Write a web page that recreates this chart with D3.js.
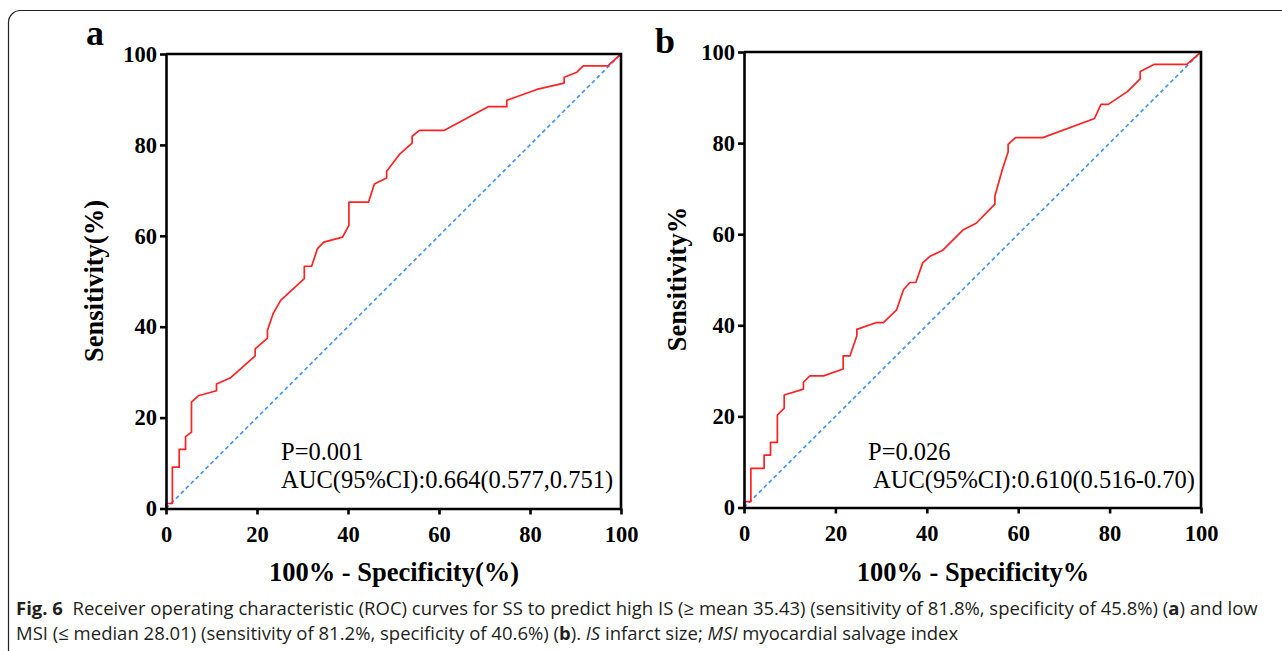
<!DOCTYPE html>
<html>
<head>
<meta charset="utf-8">
<script src="https://cdn.jsdelivr.net/npm/d3@7"></script>
<style>
  body { margin: 0; background: #fff; }
  svg { display: block; }
</style>
</head>
<body>
<div id="chart"></div>
<script>
// ticks shared by both panels
const tickValues = [0, 20, 40, 60, 80, 100];

// panel a: ROC curve (100% - specificity, sensitivity)
const rocA_fpr = [0, 0, 1.4, 1.4, 2.9, 2.9, 4.3, 4.3, 5.6, 5.6, 7.1, 11.1, 11.1, 14.1, 19.6, 19.6, 22.3, 22.3, 23.6, 25.2,
    30.4, 30.4, 32.0, 33.3, 34.7, 38.8, 40.2, 40.2, 44.5, 45.8, 48.5, 48.5, 51.3, 54.1, 54.1, 55.7, 61.2, 70.8, 74.9, 74.9,
    81.5, 87.5, 87.5, 90.3, 91.7, 97.1, 100];
const rocA_tpr = [0, 1.1, 1.1, 9.1, 9.1, 13.0, 13.0, 15.8, 16.8, 23.4, 24.8, 25.9, 27.4, 28.7, 33.6, 35.1, 37.5, 39.2, 43.0, 45.8,
    50.6, 53.3, 53.3, 57.2, 58.6, 59.7, 62.3, 67.4, 67.4, 71.4, 72.7, 74.2, 77.9, 80.4, 81.9, 83.2, 83.2, 88.4, 88.4, 89.8,
    92.2, 93.6, 94.9, 96.0, 97.4, 97.4, 100];

// panel b
const rocB_fpr = [0, 0, 1.5, 1.5, 4.4, 4.4, 5.8, 5.8, 7.3, 7.3, 8.8, 8.8, 13.0, 13.0, 14.4, 17.4, 21.7, 21.7, 23.2, 24.7,
    24.7, 29.0, 30.5, 33.4, 34.9, 36.3, 37.6, 39.1, 40.6, 43.4, 47.9, 50.8, 54.9, 54.9, 56.5, 57.8, 57.8, 59.4, 65.4, 76.7,
    78.1, 79.7, 83.9, 86.7, 86.7, 89.8, 96.9, 100];
const rocB_tpr = [0, 1.3, 1.3, 8.6, 8.6, 11.5, 11.5, 14.3, 14.3, 20.3, 21.8, 24.7, 26.0, 27.5, 28.9, 28.9, 30.4, 33.3, 33.3, 37.7,
    39.1, 40.6, 40.6, 43.4, 47.8, 49.4, 49.4, 53.7, 55.1, 56.4, 60.9, 62.4, 66.6, 68.4, 74.1, 78.1, 79.7, 81.2, 81.2, 85.4,
    88.5, 88.5, 91.3, 94.1, 95.7, 97.3, 97.3, 100];

const refLine = [0, 100];

const panels = [
    {letter: "a", fpr: rocA_fpr, tpr: rocA_tpr, x0: 166, x1: 621, y0: 508.5, y1: 54,
     ylabel: "Sensitivity(%)", xlabel: "100% - Specificity(%)", ylabelX: 103, ylabelY: 281, xlabelX: 394,
     letterX: 86, letterY: 45,
     p: "P=0.001", auc: "AUC(95%CI):0.664(0.577,0.751)", pX: 281, aucX: 281},
    {letter: "b", fpr: rocB_fpr, tpr: rocB_tpr, x0: 744, x1: 1201, y0: 507.5, y1: 52,
     ylabel: "Sensitivity%", xlabel: "100% - Specificity%", ylabelX: 686, ylabelY: 279, xlabelX: 973,
     letterX: 655, letterY: 53,
     p: "P=0.026", auc: "AUC(95%CI):0.610(0.516-0.70)", pX: 868, aucX: 873}
];

const width = 1282, height = 651;
const serif = "'Liberation Serif', 'Times New Roman', serif";

const svg = d3.select("#chart").append("svg")
    .attr("width", width)
    .attr("height", height);

// outer rounded frame (runs off the right and bottom)
svg.append("rect")
    .attr("x", 8.5).attr("y", 10.5)
    .attr("width", 1400).attr("height", 800)
    .attr("rx", 12)
    .attr("fill", "none")
    .attr("stroke", "#222")
    .attr("stroke-width", 1.2);

panels.forEach(p => {
    const x = d3.scaleLinear().domain([0, 100]).range([p.x0, p.x1]);
    const y = d3.scaleLinear().domain([0, 100]).range([p.y0, p.y1]);
    const g = svg.append("g");

    // reference diagonal
    g.append("path")
        .datum(refLine)
        .attr("d", d3.line().x(d => x(d)).y(d => y(d)))
        .attr("fill", "none")
        .attr("stroke", "#4596f5")
        .attr("stroke-width", 1.7)
        .attr("stroke-dasharray", "4,3");

    // ROC curve
    const pts = p.fpr.map((f, i) => [f, p.tpr[i]]);
    g.append("path")
        .datum(pts)
        .attr("d", d3.line().x(d => x(d[0])).y(d => y(d[1])))
        .attr("fill", "none")
        .attr("stroke", "#ff2222")
        .attr("stroke-width", 1.7)
        .attr("stroke-linejoin", "round");

    // top and right frame
    g.append("path")
        .attr("d", `M${x(0)},${y(100)}H${x(100)}V${y(0)}`)
        .attr("fill", "none")
        .attr("stroke", "#000")
        .attr("stroke-width", 2.6);

    const xAxis = g.append("g")
        .attr("transform", `translate(0,${y(0)})`)
        .call(d3.axisBottom(x).tickValues(tickValues).tickSize(6).tickSizeOuter(0).tickPadding(12));
    const yAxis = g.append("g")
        .attr("transform", `translate(${x(0)},0)`)
        .call(d3.axisLeft(y).tickValues(tickValues).tickSize(6).tickSizeOuter(0).tickPadding(3));

    [xAxis, yAxis].forEach(a => {
        a.select(".domain").attr("stroke", "#000").attr("stroke-width", 2.6);
        a.selectAll(".tick line").attr("stroke", "#000").attr("stroke-width", 2.6);
        a.selectAll(".tick text")
            .attr("fill", "#000")
            .style("font-family", serif)
            .style("font-weight", "bold")
            .style("font-size", "22.5px");
    });

    // axis titles
    g.append("text")
        .attr("transform", `translate(${p.ylabelX},${p.ylabelY}) rotate(-90)`)
        .attr("text-anchor", "middle")
        .style("font-family", serif).style("font-weight", "bold").style("font-size", "26.5px")
        .text(p.ylabel);
    g.append("text")
        .attr("x", p.xlabelX).attr("y", 581)
        .attr("text-anchor", "middle")
        .style("font-family", serif).style("font-weight", "bold").style("font-size", "26.5px")
        .text(p.xlabel);

    // panel letter
    g.append("text")
        .attr("x", p.letterX).attr("y", p.letterY)
        .style("font-family", serif).style("font-weight", "bold").style("font-size", "36px")
        .text(p.letter);

    // annotations
    g.append("text")
        .attr("x", p.pX).attr("y", 460)
        .style("font-family", serif).style("font-size", "24.5px")
        .text(p.p);
    g.append("text")
        .attr("x", p.aucX).attr("y", 488)
        .style("font-family", serif).style("font-size", "24.5px")
        .text(p.auc);
});

// caption
const captionLines = [
    [{t: "Fig. 6", w: "bold"}, {t: "  Receiver operating characteristic (ROC) curves for SS to predict high IS (≥ mean 35.43) (sensitivity of 81.8%, specificity of 45.8%) ("},
     {t: "a", w: "bold"}, {t: ") and low"}],
    [{t: "MSI (≤ median 28.01) (sensitivity of 81.2%, specificity of 40.6%) ("}, {t: "b", w: "bold"}, {t: "). "},
     {t: "IS", s: "italic"}, {t: " infarct size; "}, {t: "MSI", s: "italic"}, {t: " myocardial salvage index"}]
];
const capBase = [615, 640];
const capTexts = captionLines.map((line, i) => {
    const t = svg.append("text")
        .attr("x", 0).attr("y", 0)
        .attr("fill", "#231f20")
        .style("font-family", "'Open Sans', 'Noto Sans', sans-serif")
        .style("font-size", "18.5px")
        .attr("xml:space", "preserve")
        .style("white-space", "pre");
    line.forEach(seg => {
        t.append("tspan")
            .style("font-weight", seg.w || "normal")
            .style("font-style", seg.s || "normal")
            .text(seg.t);
    });
    return t;
});
const w0 = capTexts[0].node().getComputedTextLength();
const sx = (1258 - 16) / w0;
capTexts.forEach((t, i) => t.attr("transform", `translate(16,${capBase[i]}) scale(${sx},1)`));
</script>
</body>
</html>
